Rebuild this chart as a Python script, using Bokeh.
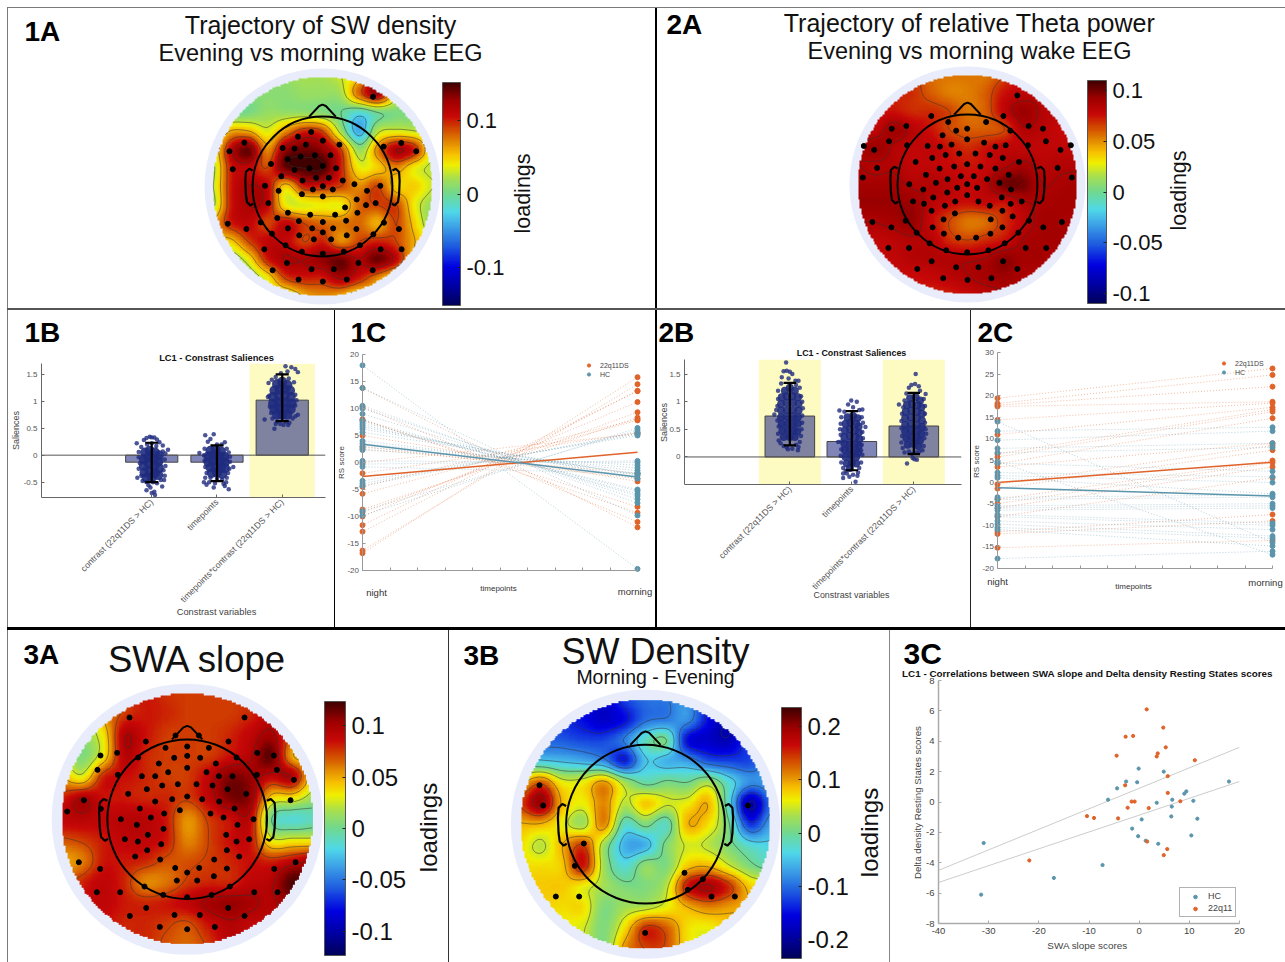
import numpy as np
from math import pi
from bokeh.embed import file_html
from bokeh.resources import INLINE
from bokeh.layouts import row, column
from bokeh.plotting import figure
from bokeh.models import (Range1d, Label, ColorBar, LinearColorMapper, FixedTicker, Div,
                          Legend, LegendItem, AllLabels)

_ = None
FONT = "Liberation Sans"

# ---------- topographic maps: values (x 0.01) read on a 13 x 13 grid, top row first ----------
map_1a = [
 [_,_,_,_,_,2,2,3,_,_,_,_,_],
 [_,_,_,1,1,1.5,1.5,2,8,12,4,_,_],
 [_,0,0.5,1.5,1.5,1.5,1,0,-2,0,0.5,0.5,_],
 [1,6,6,3.5,7,10,9,2,-4,2.5,3.5,3,2],
 [3,11,14,7,13,14,13,9,1.5,7,12,10,3],
 [2,10,11,9,14,15,15,10,4,5,7,4,2.5],
 [2.5,10,12,11,5,10,10,9,7,9,5,5,3],
 [2,10,12,11,4,3.5,4,4,8,9,9,4,1.5],
 [_,10,11,9,11,9,8,7.5,8,6,9,5,1],
 [_,5,9,11,11,9,10,7,9,10,9,6,_],
 [_,1,4,10,12,12,13,14,12,14,11,5,_],
 [_,_,1,4,9,10,10,12,10,7,4,_,_],
 [_,_,_,_,3,6,7,6,4,_,_,_,_],
]
map_2a = [
 [_,_,_,_,_,5.5,5.5,5.5,_,_,_,_,_],
 [_,_,_,7,6,5.3,5.3,6,7.5,8,_,_,_],
 [_,7.5,7.5,7,7,6.5,5.5,6,8,9.3,8.5,8,_],
 [8,8,9.2,8.3,7.5,6.5,6,6,6.5,8.5,8.3,7.8,7.5],
 [8.5,9.3,8.5,8,8,7.5,7,7.5,8,8,8,8,8],
 [8.7,8.5,8.5,8,8,7.7,7.5,7.7,8.5,9,8.3,8.5,8.5],
 [9,9,9,8.5,8.5,8.2,7.7,8.3,10,10,8.7,8.8,9],
 [9.3,9.3,9.3,9.2,8.3,7.8,7.5,7.8,7.5,8.5,8.8,9,9],
 [8.7,8.7,9,9.4,7.8,6.5,5.5,5.7,7,8,9,9,8.7],
 [_,8,8.2,8.5,8.3,7,6.5,7,7.5,8.7,9,9,_],
 [_,8,8,8.4,8.5,8.5,8.5,8.7,9.5,9,9,8.5,_],
 [_,_,7.7,7.7,7.8,8.2,8.6,9,9.2,8.8,8.5,_,_],
 [_,_,_,_,7.3,7.3,7.8,8.2,8.5,_,_,_,_],
]
map_3a = [
 [_,_,_,_,_,_,7.5,_,_,_,_,_,_],
 [_,_,_,7.5,8.3,8,7.5,7.5,7.5,8,_,_,_],
 [_,1,3.5,9.5,8.5,7.5,7.5,7.5,8,9,10,7,_],
 [_,0.5,3.5,9.3,8,7.5,7.5,7.5,8.5,9.5,11.5,5,_],
 [5,3,8,8.5,8,7.5,7.5,9,11,10.5,9,9.5,3.5],
 [8,9.7,8.5,8.3,8,8,7.5,9,11,10.5,4,3.5,1.5],
 [9,9.3,9,9.3,9.3,8.3,5.5,7.5,8.5,9,0,-1.5,-1],
 [7,7.5,8.3,9,9,8.3,5.8,7.3,8.5,8.5,3,3,3],
 [5,6,8.3,8.3,8,7,7,7.5,8,8.5,8,9,10],
 [_,8,9,8,5.8,6.2,7.5,8,8,9,9.5,12,_],
 [_,_,9,8.3,8,8.3,9,10,10.5,10,9.5,_,_],
 [_,_,_,8,8,7.5,7,8.5,9.5,9,_,_,_],
 [_,_,_,_,_,_,6.5,_,_,_,_,_,_],
]
map_3b = [
 [_,_,_,_,_,_,-10,_,_,_,_,_,_],
 [_,_,_,-15,-17,-15,-10,-9,-8,-15,-19,-15,_],
 [_,-10,-11,-12,-12,-9,-2,0,-15,-17,-18,-12,_],
 [-3,-4,-5,-6,-8,-14,-5,-6,-7,-11,-12,-12,-8],
 [8,13,6,6,10,3,-1,0.5,0,3,-3,-8,-7],
 [14,20,9,6,11,4,8,5,6,9,-3,-19,-10],
 [9,9,6,3,11,-2,1,-2,9,7,0,-13,-7],
 [7,4,9,14,3,-6,-6,1,5,4,1,-3,-4],
 [_,7,8,16,3,-3,2,1,8,9,5,1,_],
 [_,8,8,6,3,1,1,4,16,19,15,8,_],
 [_,_,7,7,1,3,4,6,9,11,10,_,_],
 [_,_,_,5,1,7,15,13,7,6,_,_,_],
 [_,_,_,_,_,_,14,_,_,_,_,_,_],
]

# electrode positions as read in the enlarged map crops, one (x, y) per electrode
el_1a = [(547,108),(160,246),(115,272),(125,326),(632,247),(677,272),(579,258),(361,214),(321,228),(396,240),(345,252),(446,252),(275,262),(311,264),(290,296),(329,288),(372,284),(419,284),(240,310),(311,328),(356,323),(396,316),(436,323),(271,347),(335,360),(376,352),(414,352),(456,360),(222,376),(263,391),(366,387),(396,377),(426,387),(491,371),(529,391),(569,376),(333,401),(396,408),(232,428),(498,417),(526,434),(555,428),(463,441),(291,457),(358,463),(433,463),(500,457),(259,473),(324,482),(466,481),(580,487),(396,485),(110,490),(166,506),(209,486),(291,504),(364,504),(427,504),(497,506),(396,516),(625,506),(325,525),(369,537),(421,537),(468,525),(548,522),(243,520),(220,567),(284,555),(333,574),(396,580),(459,574),(508,555),(570,567),(633,567),(288,608),(503,608),(245,630),(362,627),(429,627),(546,630),(323,658),(396,664),(468,658)]
el_2a = [(561,104),(302,166),(519,166),(353,184),(467,184),(227,196),(183,204),(595,196),(638,204),(377,210),(410,204),(336,224),(540,210),(175,242),(229,254),(99,256),(130,268),(291,256),(328,258),(410,236),(363,252),(461,246),(495,258),(526,254),(593,254),(647,242),(691,268),(722,254),(345,283),(386,279),(435,279),(478,283),(305,292),(517,292),(255,304),(566,304),(139,322),(410,311),(371,318),(450,318),(327,324),(495,324),(682,322),(286,343),(391,347),(430,347),(351,356),(470,356),(535,343),(96,351),(725,351),(236,371),(316,367),(410,371),(507,367),(380,382),(440,382),(278,387),(350,396),(542,387),(308,411),(410,404),(514,411),(247,423),(280,430),(374,423),(444,423),(343,436),(478,436),(541,430),(574,423),(303,451),(516,451),(373,459),(547,468),(125,485),(182,501),(225,481),(339,477),(481,477),(596,481),(639,501),(695,485),(306,501),(516,501),(258,517),(340,520),(480,520),(564,517),(383,532),(437,532),(347,570),(410,576),(474,570),(523,549),(297,549),(173,563),(235,563),(586,563),(648,563),(303,603),(518,603),(260,626),(377,621),(444,621),(561,626),(338,654),(411,659),(483,654)]
el_3a = [(297,261),(642,261),(435,315),(505,315),(346,333),(594,333),(405,352),(470,348),(535,352),(260,367),(210,375),(680,367),(730,375),(323,381),(431,382),(470,376),(509,382),(618,381),(385,399),(556,399),(201,418),(739,418),(470,412),(413,425),(528,425),(262,433),(334,437),(374,437),(565,437),(606,437),(679,433),(790,448),(442,461),(395,465),(498,461),(546,465),(349,476),(591,476),(293,490),(647,490),(470,498),(425,506),(515,506),(374,513),(566,513),(160,509),(780,509),(328,534),(612,534),(448,539),(211,535),(110,543),(401,549),(540,549),(361,561),(579,561),(271,566),(669,566),(319,583),(621,583),(399,595),(283,626),(352,613),(587,613),(656,626),(322,633),(618,633),(392,641),(350,659),(589,659),(314,678),(626,678),(389,687),(551,687),(145,695),(795,695),(209,715),(731,715),(434,712),(506,712),(470,726),(589,714),(439,750),(500,750),(550,737),(342,768),(598,768),(199,785),(269,785),(671,785),(741,785),(398,793),(470,800),(543,793),(347,832),(593,832),(298,856),(432,853),(508,853),(642,856),(388,889),(553,889),(470,896)]
el_3b = [(267,464),(278,525),(400,639),(373,706),(702,727),(757,746),(712,778),(316,798),(386,798),(783,798),(853,798),(584,907),(892,525)]

ticks_1a = [0.1, 0, -0.1]
ticks_2a = [0.1, 0.05, 0, -0.05, -0.1]
ticks_3a = [0.1, 0.05, 0, -0.05, -0.1]
ticks_3b = [0.2, 0.1, 0, -0.1, -0.2]

# ---------- contrast saliences ----------
bar_labels = ["contrast (22q11DS > HC)", "timepoints", "timepoints*contrast (22q11DS > HC)"]
bars_1b = [-0.13, -0.13, 1.02]
err_lo_1b = [-0.50, -0.48, 0.63]
err_hi_1b = [0.23, 0.18, 1.50]
bars_2b = [0.74, 0.28, 0.56]
err_lo_2b = [0.21, -0.24, 0.05]
err_hi_2b = [1.34, 0.83, 1.16]

core_1b = [
 [(-.1,.05),(-.03,.08),(.05,.05),(.11,0),(-.12,-.08),(-.05,-.05),(.03,-.07),(.1,-.12),(-.12,-.2),(-.04,-.17),(.04,-.2),(.11,-.24),(-.11,-.32),(-.03,-.3),(.05,-.33),(.1,-.37),(-.08,-.42),(0,-.42)],
 [(-.1,.08),(-.02,.1),(.06,.07),(-.13,-.02),(-.05,0),(.03,-.02),(.11,-.03),(-.13,-.13),(-.05,-.1),(.04,-.13),(.12,-.13),(-.1,-.23),(-.02,-.22),(.06,-.24),(.12,-.24),(-.08,-.33),(0,-.33),(.08,-.35)],
 [(-.08,1.32),(0,1.36),(.08,1.3),(-.12,1.2),(-.04,1.22),(.04,1.22),(.12,1.2),(-.14,1.08),(-.05,1.1),(.04,1.1),(.13,1.08),(-.14,.96),(-.05,.98),(.04,.98),(.14,.96),(-.12,.85),(-.04,.86),(.05,.86),(.13,.85),(-.08,.75),(0,.75),(.08,.75)],
]
dots_1b = [
 [(-.23,.22),(-.12,.28),(-.08,.32),(-.03,.34),(0,.33),(.04,.33),(.08,.29),(.12,.24),(.17,.18),(.25,.1),(-.16,.15),(-.07,.2),(0,.22),(.07,.17),(-.2,.06),(.17,.07),(.21,.03),(-.2,-.04),(.2,-.08),(-.18,-.15),(.21,-.2),(-.2,-.25),(.18,-.28),(-.22,-.42),(.2,-.38),(-.16,-.38),(.19,-.46),(-.14,-.48),(.14,-.46),(-.08,-.5),(.02,-.5),(.08,-.52),(.16,-.58),(-.05,-.56),(-.08,-.65),(-.02,-.6),(.04,-.68),(.05,-.74),(0,-.7)],
 [(-.18,.37),(-.1,.3),(-.05,.39),(-.14,.25),(.12,.24),(.07,.2),(-.27,.04),(-.19,.12),(0,.2),(.15,.12),(.18,.05),(-.2,0),(.2,-.03),(-.19,-.1),(.2,-.12),(.25,-.22),(-.18,-.22),(.19,-.25),(-.16,-.33),(.17,-.33),(-.18,-.42),(.15,-.42),(-.1,-.42),(0,-.44),(.08,-.45),(-.12,-.5),(.14,-.5),(-.03,-.52),(.1,-.53),(-.16,-.55),(-.05,-.6),(.18,-.63),(.12,-.57),(-.2,-.5)],
 [(-.27,.66),(-.12,.49),(-.21,1.34),(.24,1.54),(.14,1.63),(.05,1.65),(.2,1.6),(.08,1.55),(-.02,1.52),(-.1,1.45),(.1,1.42),(.18,1.35),(-.16,1.4),(-.2,1.1),(.2,1.12),(.22,1.02),(-.22,1.08),(-.19,.9),(.2,.92),(.24,.75),(.2,.72),(-.17,.78),(-.15,.68),(.16,.68),(-.08,.62),(.05,.62),(.11,.6),(-.03,.58),(.02,.56),(.09,.56),(-.1,.58)],
]
core_2b = [
 [(-.08,1.2),(0,1.25),(.08,1.2),(-.13,1.08),(-.05,1.1),(.04,1.1),(.13,1.08),(-.14,.96),(-.05,.98),(.05,.98),(.14,.96),(-.14,.84),(-.05,.85),(.05,.85),(.14,.84),(-.14,.72),(-.05,.73),(.05,.73),(.13,.72),(-.13,.6),(-.04,.6),(.05,.6),(.13,.6),(-.12,.48),(-.03,.48),(.06,.48),(.12,.46),(-.1,.36),(0,.36),(.08,.36)],
 [(-.07,.72),(.02,.74),(.09,.7),(-.1,.6),(-.02,.62),(.07,.6),(.11,.55),(-.11,.48),(-.03,.5),(.05,.48),(.11,.44),(-.12,.36),(-.03,.38),(.06,.36),(.12,.32),(-.12,.24),(-.03,.26),(.06,.24),(.11,.2),(-.11,.12),(-.03,.14),(.06,.12),(.1,.08),(-.1,0),(-.01,.02),(.07,0),(-.08,-.12),(0,-.1),(.07,-.12),(-.03,-.2)],
 [(-.06,1.06),(.03,1.08),(.1,1.02),(-.11,.94),(-.03,.96),(.06,.94),(.12,.9),(-.13,.82),(-.04,.84),(.05,.82),(.13,.78),(-.14,.7),(-.05,.72),(.05,.7),(.13,.66),(-.14,.58),(-.05,.6),(.05,.58),(.13,.54),(-.14,.46),(-.05,.48),(.05,.46),(.12,.42),(-.12,.34),(-.04,.36),(.05,.34),(.1,.3),(-.1,.22),(-.01,.24),(.07,.2)],
]
dots_2b = [
 [(-.06,1.71),(-.1,1.55),(-.05,1.56),(0,1.54),(.04,1.5),(-.13,1.44),(-.02,1.42),(.09,1.38),(.14,1.38),(-.14,1.33),(.1,1.3),(.16,1.25),(-.19,1.2),(.18,1.1),(-.19,1.05),(.2,1.0),(-.2,.92),(.21,.88),(-.22,.85),(.2,.75),(-.25,.77),(-.2,.66),(.2,.62),(-.18,.55),(.19,.5),(-.19,.42),(.18,.38),(-.18,.3),(.16,.27),(-.15,.25),(-.1,.2),(.1,.22),(.14,.18),(-.05,.17),(.04,.15),(.13,.12),(-.03,.14)],
 [(.06,-.45),(-.14,-.38),(-.2,.84),(.17,.86),(-.01,1.02),(.08,1),(.22,.54),(-.06,.95),(.02,.9),(-.12,.82),(.12,.85),(-.17,.72),(.16,.72),(.18,.62),(-.18,.6),(-.19,.5),(.17,.45),(-.18,.4),(.18,.34),(-.17,.28),(.16,.22),(-.22,.27),(-.17,.14),(.15,.12),(-.18,.02),(.17,.04),(-.17,-.1),(.15,-.1),(-.14,-.2),(.12,-.2),(-.1,-.25),(.1,-.28),(-.08,-.3),(.02,-.32),(-.04,-.36),(.09,-.34),(-.14,-.3)],
 [(.03,1.5),(-.11,-.12),(-.24,.95),(.19,1.14),(.05,-.05),(-.04,1.3),(.02,1.32),(-.08,1.25),(.08,1.28),(.1,1.2),(-.12,1.15),(-.15,1.02),(.16,1.05),(-.17,.9),(.18,.92),(-.19,.78),(.18,.78),(-.2,.65),(.18,.62),(-.2,.52),(.19,.5),(.2,.42),(-.19,.38),(.17,.34),(-.2,.26),(.16,.2),(-.18,.16),(.14,.12),(-.15,.08),(-.08,.1),(.09,.1),(-.03,.06),(.04,.08),(-.02,-.02),(.01,-.04)],
]

# ---------- individual trajectories: (night, morning) per subject ----------
tp_ticks = [1.0, 1.1, 1.2, 1.3, 1.4, 1.5, 1.6, 1.7, 1.8, 1.9, 2.0]
night_1c_22q = [-16.8,-16.3,-12.8,-11.6,-10,-9.2,-8.7,-5.8,-4.5,-2,0,2.5,3,5,7.8,8,10.3,13.8]
morn_1c_22q = [15.8,14.5,13.3,13.2,11.2,9.3,8.3,7.8,8,5.5,5.3,-2,-3,-3.5,-8.2,-9.3,-11,-12]
night_1c_hc = [18,13.8,10.5,10,9,7.8,7.4,7,6.6,6.2,5.6,4,3.5,2.8,2.3,0.3,-0.3,-0.8,-3.4,-3.9,-4.3,-9,-9.8]
morn_1c_hc = [-19.7,-9.8,-7.5,-6.8,-6.2,-5.8,-5.3,-5,-3,-2.4,-2.2,-2,-1.5,-1,-0.5,0,0.3,-2,5,5.3,5.6,6,6.4]
mean_1c_22q = [-2.6, 1.9]
mean_1c_hc = [3.4, -2.7]
night_2c_22q = [19.4,18.2,17.8,17.5,14.4,11,6.5,5.8,4.2,3.5,-0.5,-1.5,-4,-5,-6,-8,-11.5,-12,-15.2]
morn_2c_22q = [26.3,24.8,22.1,18.6,18.3,17.3,16.8,16.3,14.8,9,8.5,7.4,5,4.5,3.5,1,-7.5,-9,-13.5]
night_2c_hc = [14,11.8,9.7,7.8,6.8,4.8,4.4,2.2,1.5,1,-3.5,-4,-5.5,-6,-6.5,-7.5,-8,-9,-9.7,-10.5,-11,-17.7]
morn_2c_hc = [-14,12.7,11.8,9,8,-16.8,2.5,1.2,-0.1,-2.7,-3,-3.5,-5,-5.5,-6,-9.5,-10,-11,-12.5,-13,-14.8,-16]
mean_2c_22q = [-0.1, 4.6]
mean_2c_hc = [-1.3, -3.2]
y_ticks_1c = [20, 15, 10, 5, 0, -5, -10, -15, -20]
y_ticks_2c = [30, 25, 20, 15, 10, 5, 0, -5, -10, -15, -20]

# ---------- correlation ----------
hc_x = [-31,-31.5,-17,-7.3,-6.2,-4.4,-2.6,-0.4,-0.1,4.9,17.9,9.4,9,10.8,6.6,3.5,6.5,6.4,11.6,0.5,-1.4,-0.2,1.3,3.8,10.4]
hc_y = [-2.7,-6.1,-5,-4.15,0.15,0.9,1.35,1.3,2.2,2,1.35,0.7,0.55,0.08,0.15,-0.05,-0.3,-0.95,-1.1,-1.15,-1.75,-2.25,-2.55,-2.75,-2.2]
q22_x = [1.5,4.8,-2.7,-1.2,5.3,3.7,3.5,-4.5,11.1,5.7,-2.8,5.7,8.2,-1.5,-0.9,-2.3,1.9,-10.4,-9,-4.2,-21.9,1.6,5.6,4.9]
q22_y = [6.1,4.9,4.3,4.35,3.6,3.2,3,3.05,2.75,1.7,1.1,0.6,0.05,0.03,0.03,-0.38,-0.4,-0.93,-1.05,-1.08,-3.85,-2.6,-3.1,-3.5]
fit_x = [-40, 20]
fit_upper = [-4.5, 3.6]
fit_lower = [-5.3, 1.35]
x_ticks_3c = [-40, -30, -20, -10, 0, 10, 20]
y_ticks_3c = [8, 6, 4, 2, 0, -2, -4, -6, -8]

ORANGE, BLUE = "#e0632a", "#5b95ac"
NAVY = "#1f2b7e"

# head outline, in units of the map radius
HEAD_R = 0.63
NOSE_X = [-.12, -.03, 0, .03, .12]
NOSE_Y = [.63, .725, .737, .725, .63]
EAR_X = [-.63, -.66, -.69, -.695, -.69, -.68, -.65, -.625]
EAR_Y = [.145, .16, .13, .05, -.07, -.14, -.17, -.155]

# colour stops as they appear on the reference colour bars
STOP_T = [0, .08, .17, .27, .36, .42, .5, .57, .63, .68, .74, .80, .85, .92, 1]
STOP_C = ["#00005a", "#0000a0", "#0000e0", "#2060e0", "#40a8e8", "#50d8e8", "#70d890", "#a8e050",
          "#f0f000", "#f8c000", "#e08000", "#d04000", "#c80808", "#a00000", "#400000"]

def make_palette(n=256):
    t = np.linspace(0, 1, n)
    rgb = [[int(c[i:i+2], 16) for c in STOP_C] for i in (1, 3, 5)]
    chans = [np.interp(t, STOP_T, ch) for ch in rgb]
    return ["#%02x%02x%02x" % (int(a), int(b), int(c)) for a, b, c in zip(*chans)]
JET = make_palette()

def fill_missing(rows):
    g = np.array([[np.nan if v is None else v for v in r] for r in rows], dtype=float)
    while np.isnan(g).any():
        h = g.copy()
        for i, j in zip(*np.where(np.isnan(g))):
            nb = [g[a, b] for a, b in ((i-1,j),(i+1,j),(i,j-1),(i,j+1))
                  if 0 <= a < 13 and 0 <= b < 13 and not np.isnan(g[a, b])]
            if nb:
                h[i, j] = np.mean(nb)
        g = h
    return g

def smooth(a, k=12):
    n = a.shape[0]
    t = np.linspace(0, n-1, (n-1)*k+1)
    i = np.clip(t.astype(int), 0, n-2)
    f = (t-i)[:, None]
    p0, p1, p2, p3 = a[np.clip(i-1, 0, n-1)], a[i], a[i+1], a[np.clip(i+2, 0, n-1)]
    return 0.5*(2*p1+(p2-p0)*f+(2*p0-5*p1+4*p2-p3)*f**2+(3*p1-p0-3*p2+p3)*f**3)

# transparent sheet over the whole page, in picture pixels, that carries the free texts
sheet = figure(width=1285, height=962, toolbar_location=None, output_backend="svg",
               x_range=Range1d(0, 1285), y_range=Range1d(962, 0),
               min_border_left=0, min_border_right=0, min_border_top=0, min_border_bottom=0,
               background_fill_color=None, border_fill_color=None, margin=(-962, 0, 0, 0))
sheet.outline_line_color = None
sheet.grid.visible = False
sheet.xaxis.visible = False
sheet.yaxis.visible = False
sheet.frame_align = False

def note(x, y, text, size, bold=False, color="#111111", align="center", angle=0):
    sheet.add_layout(Label(x=x, y=y, text=text, text_font=FONT, text_font_size=f"{size}px",
                           text_font_style="bold" if bold else "normal", text_color=color,
                           text_align=align, text_baseline="middle", angle=angle))

def panel(left, top, w, h, frame=None, xr=(0, 1), yr=(0, 1)):
    L, T, R, B = frame if frame else (left, top, left+w, top+h)
    p = figure(width=w, height=h, toolbar_location=None, output_backend="svg",
               x_range=Range1d(*xr), y_range=Range1d(*yr),
               min_border_left=L-left, min_border_right=left+w-R,
               min_border_top=T-top, min_border_bottom=top+h-B,
               background_fill_color="white", border_fill_color="white")
    p.outline_line_color = None
    p.grid.visible = False
    p.frame_align = False
    return p

def topomap(left, top, w, h, cx, cy, r, halo, rows, electrodes, ecx, ecy, er, clim, ticks,
            cb, label_size, load_xy, load_size):
    xr = ((left-cx)/r, (left+w-cx)/r)
    yr = ((cy-(top+h))/r, (cy-top)/r)
    p = panel(left, top, w, h, None, xr, yr)
    p.xaxis.visible = False
    p.yaxis.visible = False
    p.circle(x=[0], y=[0], radius=halo/r, fill_color="#e9edfb", line_color=None)
    z = smooth(smooth(fill_missing(rows)*0.01).T).T[::-1]
    xs = np.linspace(-1, 1, z.shape[0])
    X, Y = np.meshgrid(xs, xs)
    z = np.where(X**2+Y**2 <= 0.99, z, np.nan)
    mapper = LinearColorMapper(palette=JET, low=-clim, high=clim, nan_color="rgba(0,0,0,0)")
    p.image(image=[z], x=-1, y=-1, dw=2, dh=2, color_mapper=mapper)
    levels = list(np.arange(-5, 6)*clim/5*0.985)
    p.contour(xs, xs, z, levels, line_color="#333333", line_width=0.7, line_alpha=0.75)
    ex = [(a-ecx)/er for a, b in electrodes]
    ey = [(ecy-b)/er for a, b in electrodes]
    p.scatter(ex, ey, size=5, color="black")
    p.circle(x=[0], y=[0], radius=HEAD_R, fill_color=None, line_color="black", line_width=2)
    p.line(NOSE_X, NOSE_Y, line_color="black", line_width=2)
    p.line(EAR_X, EAR_Y, line_color="black", line_width=2.2)
    p.line([-v for v in EAR_X], EAR_Y, line_color="black", line_width=2.2)
    x0, y0, x1, y1 = cb
    cbar = ColorBar(color_mapper=mapper, ticker=FixedTicker(ticks=ticks),
                    major_label_overrides={t: str(t) for t in ticks},
                    major_label_policy=AllLabels(),
                    width=x1-x0, height=y1-y0, location=(x0-left, top+h-y1), padding=0,
                    margin=0, background_fill_alpha=0, border_line_color=None,
                    bar_line_color="#555555", major_tick_line_color="#222222",
                    major_tick_in=3, major_tick_out=0, minor_tick_line_color=None,
                    major_label_text_font=FONT, major_label_text_font_size=f"{label_size}px",
                    major_label_text_color="#111111", label_standoff=6)
    p.add_layout(cbar)
    note(load_xy[0], load_xy[1], "loadings", load_size, angle=pi/2)
    return p

def style_axes(p, xticks, yticks, xlabels=None, font=9.5, color="#555555", xrot=0, ax_col="#666666", ax_w=1, standoff=3):
    p.xaxis.ticker = FixedTicker(ticks=xticks)
    p.yaxis.ticker = FixedTicker(ticks=yticks)
    p.yaxis.major_label_overrides = {t: str(t) for t in yticks}
    if xlabels:
        p.xaxis.major_label_overrides = dict(zip(xticks, xlabels))
    else:
        p.xaxis.major_label_text_color = None
    if xrot:
        p.xaxis.major_label_orientation = xrot
    for ax in (p.xaxis[0], p.yaxis[0]):
        ax.major_label_text_font = FONT
        ax.major_label_text_font_size = f"{font}px"
        ax.minor_tick_line_color = None
        ax.axis_line_color = ax_col
        ax.axis_line_width = ax_w
        ax.major_tick_line_color = ax_col
        ax.major_tick_in = 3
        ax.major_tick_out = 0
        ax.major_label_standoff = standoff
    p.yaxis.major_label_text_color = color
    if xlabels:
        p.xaxis.major_label_text_color = color

def salience(left, top, w, h, frame, xr, yr, vals, lo, hi, core, dots, highlight, yticks, core_size):
    p = panel(left, top, w, h, frame, xr, yr)
    xs = [1, 2, 3]
    style_axes(p, xs, yticks, bar_labels, font=8.8, xrot=pi/4)
    p.yaxis.major_label_text_font_size = "8px"
    p.yaxis.major_label_standoff = 4
    p.vbar(x=[xs[i] for i in highlight], width=1, bottom=yr[0], top=yr[1],
           fill_color="#fdfac2", line_color=None)
    p.vbar(x=xs, width=0.8, bottom=0, top=vals, fill_color="#2c3487", fill_alpha=0.6,
           line_color="#444444", line_width=1)
    p.line(xr, [0, 0], line_color="#555555", line_width=1)
    for i, x in enumerate(xs):
        p.scatter([x+d for d, v in core[i]], [v for d, v in core[i]], size=core_size, color=NAVY, alpha=0.9,
                  line_color=None)
        p.scatter([x+d for d, v in dots[i]], [v for d, v in dots[i]], size=4.5, color=NAVY,
                  alpha=0.8, line_color=None)
    p.segment(xs, lo, xs, hi, line_color="black", line_width=2.2)
    p.segment([x-.1 for x in xs], hi, [x+.1 for x in xs], hi, line_color="black", line_width=2.2)
    p.segment([x-.1 for x in xs], lo, [x+.1 for x in xs], lo, line_color="black", line_width=2.2)
    return p

def trajectory(left, top, w, h, frame, yr, yticks, n22, m22, nhc, mhc, mean22, meanhc, legend_at, pad=5):
    L, T, R, B = frame
    sx, sy = 1/(R-L), (yr[1]-yr[0])/(B-T)
    p = panel(left, top, w, h, (L-pad, T-pad, R+pad, B+pad), (1-pad*sx, 2+pad*sx),
              (yr[0]-pad*sy, yr[1]+pad*sy))
    style_axes(p, tp_ticks, yticks, None, font=8, color="#555555", ax_col="#999999")
    # the axis stands inside the frame here, where its own labels would be cut: they go on the sheet
    p.yaxis.major_label_text_color = None
    for t in yticks:
        note(L-3.5, B-(t-yr[0])/sy, str(t), 8, color="#555555", align="right")
    p.xaxis.fixed_location = yr[0]
    p.yaxis.fixed_location = 1
    p.xaxis.bounds = (1, 2)
    p.yaxis.bounds = tuple(yr)
    for nn, mm, col in ((n22, m22, ORANGE), (nhc, mhc, BLUE)):
        p.multi_line([[1, 2]]*len(nn), [[a, b] for a, b in zip(nn, mm)], line_color=col,
                     line_width=0.8, line_alpha=0.55, line_dash="1 2")
    r1 = p.scatter([1]*len(n22)+[2]*len(m22), n22+m22, size=5, color=ORANGE)
    r2 = p.scatter([1]*len(nhc)+[2]*len(mhc), nhc+mhc, size=5, color=BLUE)
    p.line([1, 2], mean22, line_color=ORANGE, line_width=1.5)
    p.line([1, 2], meanhc, line_color=BLUE, line_width=1.5)
    lg = Legend(items=[LegendItem(label="22q11DS", renderers=[r1]), LegendItem(label="HC", renderers=[r2])],
                location=legend_at, background_fill_alpha=0, border_line_color=None,
                label_text_font=FONT, label_text_font_size="7px", label_text_color="#444444",
                glyph_width=9, glyph_height=8, label_height=8, spacing=1, padding=0, margin=0,
                label_standoff=7)
    p.add_layout(lg)
    return p

def sep(w, h, color="black"):
    return Div(text="", width=w, height=h, margin=0, styles={"background-color": color})

# ---------- 1A / 2A ----------
p1a = topomap(8, 8, 647, 300, 322, 186, 111, 118, map_1a, el_1a, 395, 378, 334, 0.152, ticks_1a,
              (442, 82, 460, 305), 22, (522, 193), 21.5)
note(24, 31, "1A", 28, bold=True, color="black", align="left")
note(320, 24, "Trajectory of SW density", 25)
note(320, 52, "Evening vs morning wake EEG", 23.5)

p2a = topomap(657, 8, 628, 300, 967, 184, 111, 118, map_2a, el_2a, 411, 372, 334, 0.11, ticks_2a,
              (1087, 80, 1106, 303), 22, (1178, 190), 21.5)
note(666, 24, "2A", 28, bold=True, color="black", align="left")
note(969, 22, "Trajectory of relative Theta power", 25)
note(969, 50, "Evening vs morning wake EEG", 23.5)

# ---------- 1B / 1C / 2B / 2C ----------
p1b = salience(8, 310, 326, 317, (41, 363, 325, 497), (-0.689, 3.663), (-0.785, 1.7), bars_1b, err_lo_1b,
               err_hi_1b, core_1b, dots_1b, [2], [1.5, 1, 0.5, 0, -0.5], 10)
note(24, 332, "1B", 28, bold=True, color="black", align="left")
note(216, 357, "LC1 - Constrast Saliences", 9.3, bold=True)
note(216, 611, "Constrast variables", 9.3, color="#444444")
note(15, 430, "Saliences", 9, color="#444444", angle=pi/2)

p1c = trajectory(335, 310, 320, 317, (362, 354, 637, 570), (-20, 20), y_ticks_1c, night_1c_22q, morn_1c_22q,
                 night_1c_hc, morn_1c_hc, mean_1c_22q, mean_1c_hc, (227, 197))
note(350, 332, "1C", 28, bold=True, color="black", align="left")
note(376, 592, "night", 9.5, color="#333333")
note(634.5, 591, "morning", 9.5, color="#333333")
note(498, 588, "timepoints", 8, color="#333333")
note(341, 462, "RS score", 8, color="#444444", angle=pi/2)

p2b = salience(657, 310, 313, 317, (684, 359, 961, 484), (-0.699, 3.769), (-0.498, 1.763), bars_2b, err_lo_2b,
               err_hi_2b, core_2b, dots_2b, [0, 2], [1.5, 1, 0.5, 0], 8)
note(658, 332, "2B", 28, bold=True, color="black", align="left")
note(851, 352, "LC1 - Constrast Saliences", 8.9, bold=True)
note(851, 594, "Constrast variables", 8.9, color="#444444")
note(663, 422, "Saliences", 9, color="#444444", angle=pi/2)

p2c = trajectory(971, 310, 314, 317, (997, 352, 1272, 568), (-20, 30), y_ticks_2c, night_2c_22q, morn_2c_22q,
                 night_2c_hc, morn_2c_hc, mean_2c_22q, mean_2c_hc, (227, 197))
note(977, 332, "2C", 28, bold=True, color="black", align="left")
note(997, 581, "night", 9.5, color="#333333")
note(1265, 582, "morning", 9.5, color="#333333")
note(1133, 586, "timepoints", 8, color="#333333")
note(976, 461, "RS score", 8, color="#444444", angle=pi/2)

# ---------- 3A / 3B / 3C ----------
p3a = topomap(8, 630, 440, 332, 186.7, 818.7, 126.7, 135.6, map_3a, el_3a, 470, 566, 380, 0.1235, ticks_3a,
              (324, 701, 345, 955), 24, (428, 827), 24)
note(23, 654, "3A", 28, bold=True, color="black", align="left")
note(197, 659, "SWA slope", 36.5)

p3b = topomap(449, 630, 440, 332, 645, 823.7, 126, 134.7, map_3b, el_3b, 585, 581, 378, 0.236, ticks_3b,
              (781, 707, 801, 958), 24, (869, 832), 24)
note(463, 655, "3B", 28, bold=True, color="black", align="left")
note(655, 651, "SW Density", 36)
note(655, 676, "Morning - Evening", 19.5)

p3c = panel(890, 630, 395, 332, (938, 680, 1239, 923), (-40, 20), (-8, 8))
style_axes(p3c, x_ticks_3c, y_ticks_3c, [str(t) for t in x_ticks_3c], font=9.5, color="#444444",
           ax_col="#aaaaaa", ax_w=1.5, standoff=4)
p3c.line(fit_x, fit_upper, line_color="#cccccc", line_width=1)
p3c.line(fit_x, fit_lower, line_color="#cccccc", line_width=1)
r_hc = p3c.scatter(hc_x, hc_y, size=3.2, color=BLUE)
r_q = p3c.scatter(q22_x, q22_y, size=3.2, color=ORANGE)
p3c.add_layout(Legend(items=[LegendItem(label="HC", renderers=[r_hc]), LegendItem(label="22q11", renderers=[r_q])],
                      location=(241, 6), background_fill_color="white", border_line_color="#666666",
                      label_text_font=FONT, label_text_font_size="9px", label_text_color="#444444",
                      glyph_width=24, glyph_height=9, label_height=9, spacing=2, padding=3, margin=0,
                      label_standoff=1))
note(903, 653, "3C", 30, bold=True, color="black", align="left")
note(1087, 673, "LC1 - Correlations between SWA slope and Delta density Resting States scores", 9.85, bold=True)
note(1087, 945, "SWA slope scores", 9.9, color="#444444")
note(917, 802, "Delta density Resting States scores", 9.7, color="#444444", angle=pi/2)

# ---------- assemble ----------
GREY = "#7a7a7a"
def left_gutter(h):
    return [sep(7, h, "white"), sep(1, h, GREY)]

main = column(
    sep(1285, 7, "white"),
    row(sep(7, 1, "white"), sep(1278, 1, GREY), spacing=0),
    row(*left_gutter(300), p1a, sep(2, 300), p2a, spacing=0),
    row(sep(7, 2, "white"), sep(1278, 2, "#555555"), spacing=0),
    row(*left_gutter(317), p1b, sep(1, 317), p1c, sep(2, 317), p2b, sep(1, 317, "#222222"), p2c, spacing=0),
    row(sep(7, 3, "white"), sep(1278, 3), spacing=0),
    row(*left_gutter(332), p3a, sep(1, 332, "#333333"), p3b, sep(1, 332, "#888888"), p3c, spacing=0),
    spacing=0,
)
root = column(main, sheet, spacing=0)

open("out.html", "w").write(file_html(root, INLINE))
